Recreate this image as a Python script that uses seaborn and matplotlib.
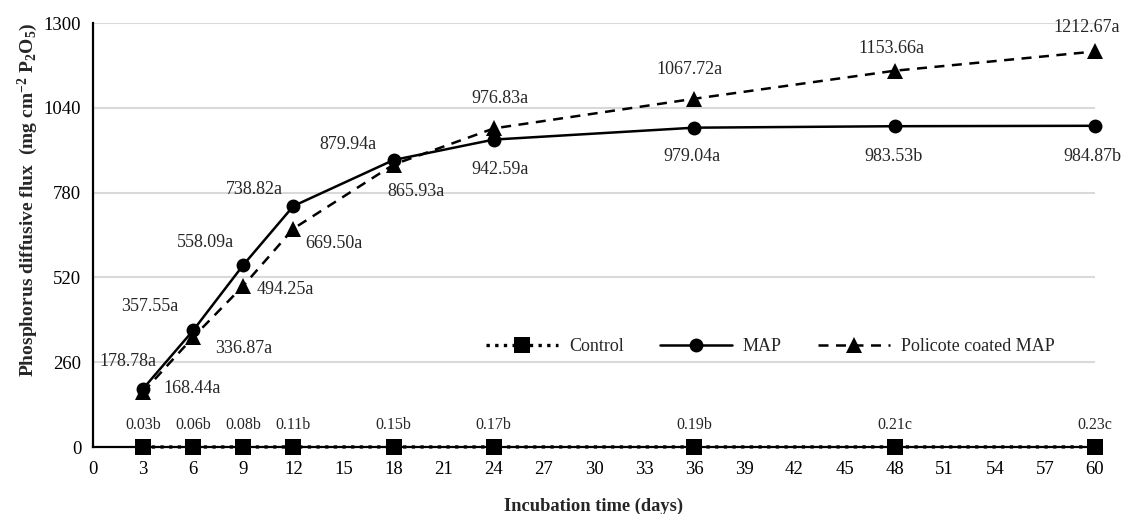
import numpy as np
import pandas as pd
import matplotlib
matplotlib.use("Agg")
import matplotlib.pyplot as plt
import seaborn as sns

# Incubation days and measured P diffusive flux
days = [3, 6, 9, 12, 18, 24, 36, 48, 60]
control = [0.03, 0.06, 0.08, 0.11, 0.15, 0.17, 0.19, 0.21, 0.23]
map_flux = [178.78, 357.55, 558.09, 738.82, 879.94, 942.59, 979.04, 983.53, 984.87]
policote = [168.44, 336.87, 494.25, 669.50, 865.93, 976.83, 1067.72, 1153.66, 1212.67]

# significance letters
control_letters = ["b", "b", "b", "b", "b", "b", "b", "c", "c"]
map_letters = ["a", "a", "a", "a", "a", "a", "a", "b", "b"]
policote_letters = ["a"] * 9

series_names = ["Control", "MAP", "Policote coated MAP"]

# label offsets in pixels (dx, dy) relative to each point
map_offsets = [(-15, 27), (-43, 24), (-38, 22), (-39, 17), (-46, 16),
               (6, -30), (-2, -29), (-1, -30), (-3, -31)]
policote_offsets = [(49, 4), (50, -11), (42, -4), (40, -15), (22, -27),
                    (6, 30), (-5, 29), (-3, 22), (-8, 24)]

sns.set_style("white")
plt.rcParams["font.family"] = ["Liberation Serif", "DejaVu Serif"]
plt.rcParams["mathtext.default"] = "regular"

df = pd.DataFrame({
    "day": days * 3,
    "flux": control + map_flux + policote,
    "treatment": np.repeat(series_names, len(days)),
})

fig = plt.figure(figsize=(11.25, 5.14), dpi=100)
ax = fig.add_axes([93 / 1125, 67 / 514, 1002 / 1125, 424 / 514])

styles = {
    "Control": dict(linestyle=(0, (1, 1.6)), marker="s", markersize=11, linewidth=2.4),
    "MAP": dict(linestyle="-", marker="o", markersize=10, linewidth=1.8),
    "Policote coated MAP": dict(linestyle=(0, (4, 3)), marker="^", markersize=11, linewidth=1.8),
}
for name in series_names:
    sub = df[df["treatment"] == name]
    sns.lineplot(data=sub, x="day", y="flux", ax=ax, color="black",
                 label=name, clip_on=False, zorder=3,
                 markeredgewidth=0, **styles[name])

ax.set_xlim(0, 60)
ax.set_ylim(0, 1300)
ax.set_xticks(np.arange(0, 61, 3))
ax.set_yticks(np.arange(0, 1301, 260))
ax.tick_params(axis="both", labelsize=13.5, length=5, width=1.2, direction="out",
               colors="black")
ax.tick_params(axis="x", pad=5)
ax.grid(axis="y", color="#d9d9d9", linewidth=1.5)
ax.set_axisbelow(True)
for side in ["top", "right"]:
    ax.spines[side].set_visible(False)
for side in ["left", "bottom"]:
    ax.spines[side].set_color("black")
    ax.spines[side].set_linewidth(1.6)

ax.set_xlabel("Incubation time (days)", fontsize=13.3, fontweight="bold", labelpad=14)
ax.set_ylabel("Phosphorus diffusive flux  (mg cm$^{-2}$ P$_2$O$_5$)",
              fontsize=14, fontweight="bold")
ax.yaxis.set_label_coords(-0.053, 0.583)

# data labels
for x, v, l in zip(days, control, control_letters):
    ax.annotate(f"{v:.2f}{l}", (x, v), xytext=(0, 22), textcoords="offset pixels",
                ha="center", va="center", fontsize=11.5, annotation_clip=False)
for x, v, l, off in zip(days, map_flux, map_letters, map_offsets):
    ax.annotate(f"{v:.2f}{l}", (x, v), xytext=off, textcoords="offset pixels",
                ha="center", va="center", fontsize=13, annotation_clip=False)
for x, v, l, off in zip(days, policote, policote_letters, policote_offsets):
    ax.annotate(f"{v:.2f}{l}", (x, v), xytext=off, textcoords="offset pixels",
                ha="center", va="center", fontsize=13, annotation_clip=False)

ax.legend(loc="center", bbox_to_anchor=(0.676, 0.236), ncol=3, frameon=False,
          fontsize=13, handlelength=4, columnspacing=2.0, handletextpad=0.6)

fig.savefig("out.png", dpi=100)
